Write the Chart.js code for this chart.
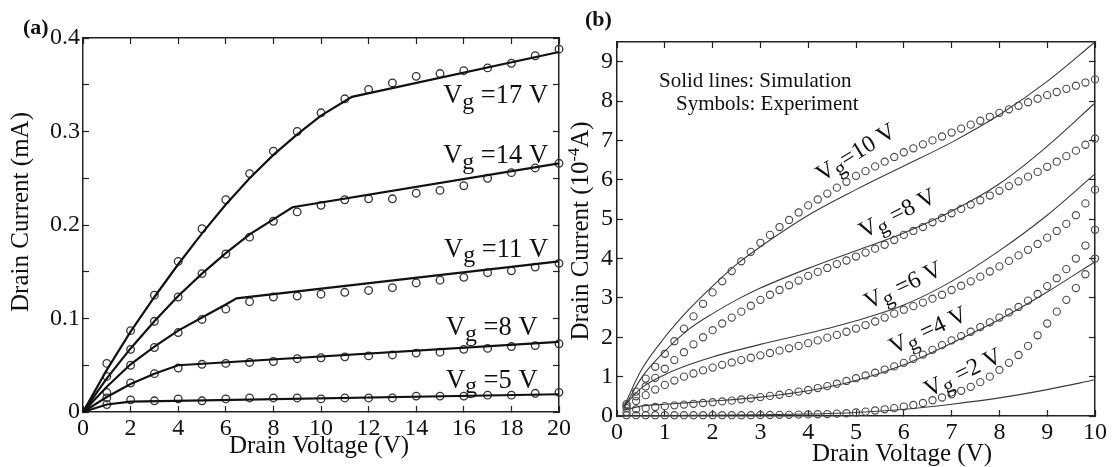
<!DOCTYPE html>
<html lang="en">
<head>
<meta charset="UTF-8">
<title>Drain current vs drain voltage</title>
<script src="https://cdnjs.cloudflare.com/ajax/libs/Chart.js/4.4.1/chart.umd.min.js"></script>
<style>
  html, body { margin: 0; padding: 0; background: #fff; }
  #wrap { position: relative; width: 1115px; height: 467px; overflow: hidden; }
  #wrapA { position: absolute; left: 0; top: 0; width: 600px; height: 467px; }
  #wrapB { position: absolute; left: 555px; top: 0; width: 560px; height: 467px; }
</style>
</head>
<body>
<div id="wrap">
  <div id="wrapA"><canvas id="chartA"></canvas></div>
  <div id="wrapB"><canvas id="chartB"></canvas></div>
</div>
<script>
// ---------- panel (a): drain current (mA) vs drain voltage (V) ----------
const A_VD = [1, 2, 3, 4, 5, 6, 7, 8, 9, 10, 11, 12, 13, 14, 15, 16, 17, 18, 19, 20];
const A_EXP_17 = [0.052, 0.087, 0.125, 0.161, 0.196, 0.227, 0.255, 0.279, 0.300, 0.320, 0.335, 0.345, 0.352, 0.359, 0.362, 0.365, 0.368, 0.373, 0.381, 0.388];
const A_EXP_14 = [0.038, 0.067, 0.097, 0.123, 0.148, 0.169, 0.187, 0.204, 0.214, 0.221, 0.227, 0.228, 0.228, 0.234, 0.237, 0.242, 0.250, 0.256, 0.261, 0.266];
const A_EXP_11 = [0.021, 0.050, 0.069, 0.085, 0.099, 0.110, 0.118, 0.123, 0.124, 0.126, 0.128, 0.130, 0.133, 0.138, 0.141, 0.144, 0.149, 0.151, 0.155, 0.159];
const A_EXP_8 = [0.015, 0.031, 0.041, 0.047, 0.051, 0.052, 0.053, 0.054, 0.057, 0.058, 0.059, 0.060, 0.061, 0.063, 0.064, 0.067, 0.068, 0.070, 0.071, 0.073];
const A_EXP_5 = [0.008, 0.013, 0.012, 0.014, 0.012, 0.014, 0.015, 0.015, 0.015, 0.014, 0.015, 0.015, 0.015, 0.017, 0.017, 0.017, 0.018, 0.018, 0.020, 0.021];

const A_SIM_17_VD = [0, 1, 2, 3, 4, 5, 6, 7, 8, 9, 10, 11.3, 20];
const A_SIM_17 = [0, 0.045, 0.086, 0.123, 0.158, 0.191, 0.222, 0.250, 0.275, 0.297, 0.317, 0.337, 0.385];
const A_SIM_14_VD = [0, 1, 2, 3, 4, 5, 6, 7, 8, 8.8, 20];
const A_SIM_14 = [0, 0.036, 0.068, 0.097, 0.124, 0.148, 0.170, 0.190, 0.206, 0.219, 0.266];
const A_SIM_11_VD = [0, 1, 2, 3, 4, 5, 6, 6.45, 20];
const A_SIM_11 = [0, 0.027, 0.051, 0.070, 0.087, 0.101, 0.115, 0.1215, 0.161];
const A_SIM_8_VD = [0, 1, 2, 3, 4, 20];
const A_SIM_8 = [0, 0.016, 0.030, 0.041, 0.050, 0.075];
const A_SIM_5_VD = [0, 1, 2, 20];
const A_SIM_5 = [0, 0.008, 0.011, 0.019];

const A_X_TICKS = [0, 2, 4, 6, 8, 10, 12, 14, 16, 18, 20];
const A_X_LABELS = ['0', '2', '4', '6', '8', '10', '12', '14', '16', '18', '20'];
const A_Y_TICKS = [0, 0.05, 0.1, 0.15, 0.2, 0.25, 0.3, 0.35, 0.4];
const A_Y_LABELS = ['0', '', '0.1', '', '0.2', '', '0.3', '', '0.4'];

// ---------- panel (b): drain current (1e-4 A) vs drain voltage (V) ----------
const B_VD = [0.2, 0.4, 0.6, 0.8, 1.0, 1.2, 1.4, 1.6, 1.8, 2.0,
              2.2, 2.4, 2.6, 2.8, 3.0, 3.2, 3.4, 3.6, 3.8, 4.0,
              4.2, 4.4, 4.6, 4.8, 5.0, 5.2, 5.4, 5.6, 5.8, 6.0,
              6.2, 6.4, 6.6, 6.8, 7.0, 7.2, 7.4, 7.6, 7.8, 8.0,
              8.2, 8.4, 8.6, 8.8, 9.0, 9.2, 9.4, 9.6, 9.8, 10];
const B_EXP_10 = [0.30, 0.62, 0.95, 1.25, 1.58, 1.90, 2.22, 2.53, 2.85, 3.14,
                  3.42, 3.68, 3.93, 4.17, 4.40, 4.60, 4.80, 4.98, 5.17, 5.35,
                  5.50, 5.65, 5.80, 5.95, 6.10, 6.22, 6.34, 6.46, 6.58, 6.70,
                  6.80, 6.90, 7.00, 7.10, 7.20, 7.30, 7.40, 7.50, 7.60, 7.70,
                  7.79, 7.88, 7.97, 8.06, 8.15, 8.23, 8.31, 8.39, 8.47, 8.55];
const B_EXP_8 = [0.25, 0.50, 0.75, 0.97, 1.20, 1.42, 1.62, 1.82, 2.00, 2.18,
                 2.35, 2.50, 2.65, 2.80, 2.95, 3.08, 3.20, 3.32, 3.44, 3.56,
                 3.66, 3.76, 3.86, 3.95, 4.05, 4.15, 4.25, 4.35, 4.47, 4.60,
                 4.70, 4.80, 4.92, 5.03, 5.15, 5.26, 5.37, 5.48, 5.60, 5.72,
                 5.84, 5.96, 6.08, 6.20, 6.33, 6.46, 6.60, 6.74, 6.89, 7.05];
const B_EXP_6 = [0.20, 0.38, 0.53, 0.67, 0.79, 0.90, 1.00, 1.08, 1.16, 1.23,
                 1.30, 1.36, 1.42, 1.48, 1.54, 1.60, 1.66, 1.72, 1.78, 1.85,
                 1.92, 1.99, 2.06, 2.14, 2.22, 2.31, 2.40, 2.50, 2.60, 2.70,
                 2.79, 2.88, 2.98, 3.08, 3.20, 3.31, 3.42, 3.54, 3.67, 3.80,
                 3.94, 4.08, 4.22, 4.37, 4.53, 4.70, 4.88, 5.10, 5.40, 5.75];
const B_EXP_4 = [0.10, 0.17, 0.20, 0.23, 0.25, 0.27, 0.29, 0.31, 0.33, 0.35,
                 0.37, 0.39, 0.42, 0.45, 0.48, 0.51, 0.54, 0.58, 0.62, 0.66,
                 0.71, 0.76, 0.82, 0.89, 0.96, 1.03, 1.10, 1.18, 1.26, 1.35,
                 1.45, 1.56, 1.68, 1.80, 1.92, 2.03, 2.14, 2.26, 2.38, 2.50,
                 2.63, 2.77, 2.93, 3.10, 3.30, 3.50, 3.73, 4.00, 4.33, 4.73];
const B_EXP_2 = [0.02, 0.02, 0.02, 0.02, 0.02, 0.02, 0.02, 0.02, 0.02, 0.02,
                 0.02, 0.02, 0.02, 0.02, 0.025, 0.025, 0.03, 0.03, 0.035, 0.04,
                 0.045, 0.05, 0.06, 0.07, 0.09, 0.11, 0.14, 0.17, 0.20, 0.24,
                 0.28, 0.33, 0.40, 0.47, 0.55, 0.64, 0.74, 0.86, 1.00, 1.17,
                 1.35, 1.55, 1.78, 2.05, 2.35, 2.65, 2.95, 3.25, 3.60, 4.00];

const B_SIM_10_VD = [0.15, 0.5, 1, 1.5, 2, 2.5, 3, 4, 5, 6, 7, 8, 9, 10];
const B_SIM_10 = [0.25, 1.15, 2.0, 2.7, 3.3, 3.85, 4.3, 5.1, 5.75, 6.35, 6.95, 7.65, 8.5, 9.5];
const B_SIM_8_VD = [0.15, 0.5, 1, 1.5, 2, 2.5, 3, 4, 5, 6, 7, 8, 9, 10];
const B_SIM_8 = [0.2, 0.95, 1.65, 2.2, 2.6, 2.95, 3.25, 3.75, 4.2, 4.65, 5.2, 5.9, 6.85, 7.95];
const B_SIM_6_VD = [0.15, 0.5, 1, 1.5, 2, 3, 4, 5, 6, 7, 8, 9, 10];
const B_SIM_6 = [0.25, 0.7, 1.05, 1.3, 1.5, 1.82, 2.1, 2.42, 2.82, 3.42, 4.2, 5.1, 6.15];
const B_SIM_4_VD = [0.15, 0.5, 1, 2, 3, 4, 5, 6, 7, 8, 9, 10];
const B_SIM_4 = [0.15, 0.25, 0.3, 0.38, 0.48, 0.64, 0.9, 1.3, 1.85, 2.45, 3.15, 3.92];
const B_SIM_2_VD = [0, 1, 2, 3, 4, 5, 6, 7, 8, 9, 10];
const B_SIM_2 = [0, 0.01, 0.02, 0.03, 0.05, 0.09, 0.17, 0.3, 0.46, 0.67, 0.92];

const B_X_TICKS = [0, 1, 2, 3, 4, 5, 6, 7, 8, 9, 10];
const B_X_LABELS = ['0', '1', '2', '3', '4', '5', '6', '7', '8', '9', '10'];
const B_Y_TICKS = [0, 1, 2, 3, 4, 5, 6, 7, 8, 9];
const B_Y_LABELS = ['0', '1', '2', '3', '4', '5', '6', '7', '8', '9'];

// curve labels, anchored in data units
const A_CURVE_LABELS = [
  { vg: '17', x: 19.54, y: 0.330 },
  { vg: '14', x: 19.54, y: 0.266 },
  { vg: '11', x: 19.54, y: 0.166 },
  { vg: '8', x: 19.10, y: 0.082 },
  { vg: '5', x: 19.10, y: 0.026 }
];
const B_CURVE_LABELS = [
  { text: '=10 V', x: 4.99, y: 6.71, angle: -32 },
  { text: ' =8 V', x: 5.86, y: 5.16, angle: -27 },
  { text: ' =6 V', x: 5.98, y: 3.33, angle: -25 },
  { text: ' =4 V', x: 6.50, y: 2.19, angle: -25 },
  { text: ' =2 V', x: 7.23, y: 1.12, angle: -26 }
];

const SERIF = "'Liberation Serif', 'Times New Roman', serif";

function pts(xs, ys) {
  return xs.map((x, i) => ({ x: x, y: ys[i] }));
}

// draw a run of text pieces (sub/superscripts) from one anchor
function drawRich(ctx, parts, size, x, y, align, angle, vcenter) {
  ctx.save();
  ctx.translate(x, y);
  ctx.rotate((angle || 0) * Math.PI / 180);
  ctx.fillStyle = '#111';
  ctx.textAlign = 'left';
  ctx.textBaseline = 'alphabetic';
  const fontOf = p => (p.bold ? 'bold ' : '') + (size * (p.scale || 1)).toFixed(1) + 'px ' + SERIF;
  let total = 0;
  const widths = parts.map(p => {
    ctx.font = fontOf(p);
    const w = ctx.measureText(p.t).width;
    total += w;
    return w;
  });
  let cx = align === 'right' ? -total : (align === 'center' ? -total / 2 : 0);
  const base = vcenter ? size * 0.33 : 0;
  parts.forEach((p, i) => {
    ctx.font = fontOf(p);
    ctx.fillText(p.t, cx, base + (p.dy || 0) * size);
    cx += widths[i];
  });
  ctx.restore();
}

function axis(pos, min, max, ticks, labels, fit, pad) {
  return {
    type: 'linear',
    position: pos,
    min: min,
    max: max,
    afterBuildTicks: s => { s.ticks = ticks.map(v => ({ value: v })); },
    afterFit: s => { if (s.isHorizontal()) s.height = fit; else s.width = fit; },
    ticks: {
      display: !!labels,
      autoSkip: false,
      maxRotation: 0,
      padding: pad,
      color: '#111',
      font: { family: SERIF, size: 24 },
      callback: (v, i) => (labels ? labels[i] : '')
    },
    grid: { drawOnChartArea: false, drawTicks: true, tickLength: -6, tickColor: '#222', tickWidth: 1.2 },
    border: { display: true, color: '#222', width: 1.5 }
  };
}

function simSet(xs, ys, color, width, smooth) {
  return {
    data: pts(xs, ys), showLine: true, pointRadius: 0, borderColor: color, borderWidth: width,
    tension: 0, cubicInterpolationMode: smooth ? 'monotone' : 'default', clip: false
  };
}
function expSet(xs, ys, color, radius, width) {
  return {
    data: pts(xs, ys), showLine: false, pointRadius: radius, pointStyle: 'circle',
    pointBorderColor: color, pointBorderWidth: width, pointBackgroundColor: 'rgba(0,0,0,0)', clip: false
  };
}

const textA = {
  id: 'textA',
  afterDraw(chart) {
    const ctx = chart.ctx, xs = chart.scales.x, ys = chart.scales.y, ca = chart.chartArea;
    A_CURVE_LABELS.forEach(l => {
      drawRich(ctx, [{ t: 'V' }, { t: 'g', scale: 0.9, dy: 0.2 }, { t: ' =' + l.vg + ' V' }], 26.5,
        xs.getPixelForValue(l.x), ys.getPixelForValue(l.y), 'right', 0, false);
    });
    drawRich(ctx, [{ t: 'Drain Voltage (V)' }], 25, (ca.left + ca.right) / 2 - 2, 453, 'center', 0, false);
    drawRich(ctx, [{ t: 'Drain Current (mA)' }], 25, 28, 212, 'center', -90, false);
    drawRich(ctx, [{ t: '(a)', bold: true }], 22, 23, 34, 'left', 0, false);
  }
};

const textB = {
  id: 'textB',
  afterDraw(chart) {
    const ctx = chart.ctx, xs = chart.scales.x, ys = chart.scales.y;
    B_CURVE_LABELS.forEach(l => {
      drawRich(ctx, [{ t: 'V' }, { t: 'g', scale: 0.9, dy: 0.2 }, { t: l.text }], 24,
        xs.getPixelForValue(l.x), ys.getPixelForValue(l.y), 'center', l.angle, true);
    });
    drawRich(ctx, [{ t: 'Solid lines: Simulation' }], 21, 104, 87, 'left', 0, false);
    drawRich(ctx, [{ t: 'Symbols: Experiment' }], 21, 121, 110, 'left', 0, false);
    drawRich(ctx, [{ t: 'Drain Voltage (V)' }], 25, 347, 461, 'center', 0, false);
    drawRich(ctx, [{ t: 'Drain Current (10' }, { t: '-4', scale: 0.65, dy: -0.38 }, { t: 'A)' }], 25, 33, 231, 'center', -90, false);
    drawRich(ctx, [{ t: '(b)', bold: true }], 22, 30, 26, 'left', 0, false);
  }
};

const baseOpts = {
  responsive: true,
  maintainAspectRatio: false,
  animation: false,
  events: [],
  plugins: { legend: { display: false }, tooltip: { enabled: false } }
};

const lineA = '#111', dotA = '#333';
new Chart(document.getElementById('chartA'), {
  type: 'scatter',
  data: {
    datasets: [
      simSet(A_SIM_17_VD, A_SIM_17, lineA, 2.2, false),
      simSet(A_SIM_14_VD, A_SIM_14, lineA, 2.2, false),
      simSet(A_SIM_11_VD, A_SIM_11, lineA, 2.2, false),
      simSet(A_SIM_8_VD, A_SIM_8, lineA, 2.2, false),
      simSet(A_SIM_5_VD, A_SIM_5, lineA, 2.2, false),
      expSet(A_VD, A_EXP_17, dotA, 3.8, 1.3),
      expSet(A_VD, A_EXP_14, dotA, 3.8, 1.3),
      expSet(A_VD, A_EXP_11, dotA, 3.8, 1.3),
      expSet(A_VD, A_EXP_8, dotA, 3.8, 1.3),
      expSet(A_VD, A_EXP_5, dotA, 3.8, 1.3)
    ]
  },
  options: Object.assign({}, baseOpts, {
    layout: { padding: { left: 0, top: 38, right: 41, bottom: 0 } },
    scales: {
      x: axis('bottom', 0, 20, A_X_TICKS, A_X_LABELS, 55, 8),
      y: axis('left', 0, 0.4, A_Y_TICKS, A_Y_LABELS, 83, 9),
      x2: axis('top', 0, 20, A_X_TICKS, null, 0, 0),
      y2: axis('right', 0, 0.4, A_Y_TICKS, null, 0, 0)
    }
  }),
  plugins: [textA]
});

const lineB = '#3a3a3a', dotB = '#4a4a4a';
new Chart(document.getElementById('chartB'), {
  type: 'scatter',
  data: {
    datasets: [
      simSet(B_SIM_10_VD, B_SIM_10, lineB, 1.1, true),
      simSet(B_SIM_8_VD, B_SIM_8, lineB, 1.1, true),
      simSet(B_SIM_6_VD, B_SIM_6, lineB, 1.1, true),
      simSet(B_SIM_4_VD, B_SIM_4, lineB, 1.1, true),
      simSet(B_SIM_2_VD, B_SIM_2, lineB, 1.1, true),
      expSet(B_VD, B_EXP_10, dotB, 3.6, 1.1),
      expSet(B_VD, B_EXP_8, dotB, 3.6, 1.1),
      expSet(B_VD, B_EXP_6, dotB, 3.6, 1.1),
      expSet(B_VD, B_EXP_4, dotB, 3.6, 1.1),
      expSet(B_VD, B_EXP_2, dotB, 3.6, 1.1)
    ]
  },
  options: Object.assign({}, baseOpts, {
    layout: { padding: { left: 0, top: 42, right: 15, bottom: 0 } },
    scales: {
      x: axis('bottom', 0, 10, B_X_TICKS, B_X_LABELS, 51, 8),
      y: axis('left', 0, 9.5, B_Y_TICKS, B_Y_LABELS, 62, 10),
      x2: axis('top', 0, 10, B_X_TICKS, null, 0, 0),
      y2: axis('right', 0, 9.5, B_Y_TICKS, null, 0, 0)
    }
  }),
  plugins: [textB]
});
</script>
</body>
</html>
